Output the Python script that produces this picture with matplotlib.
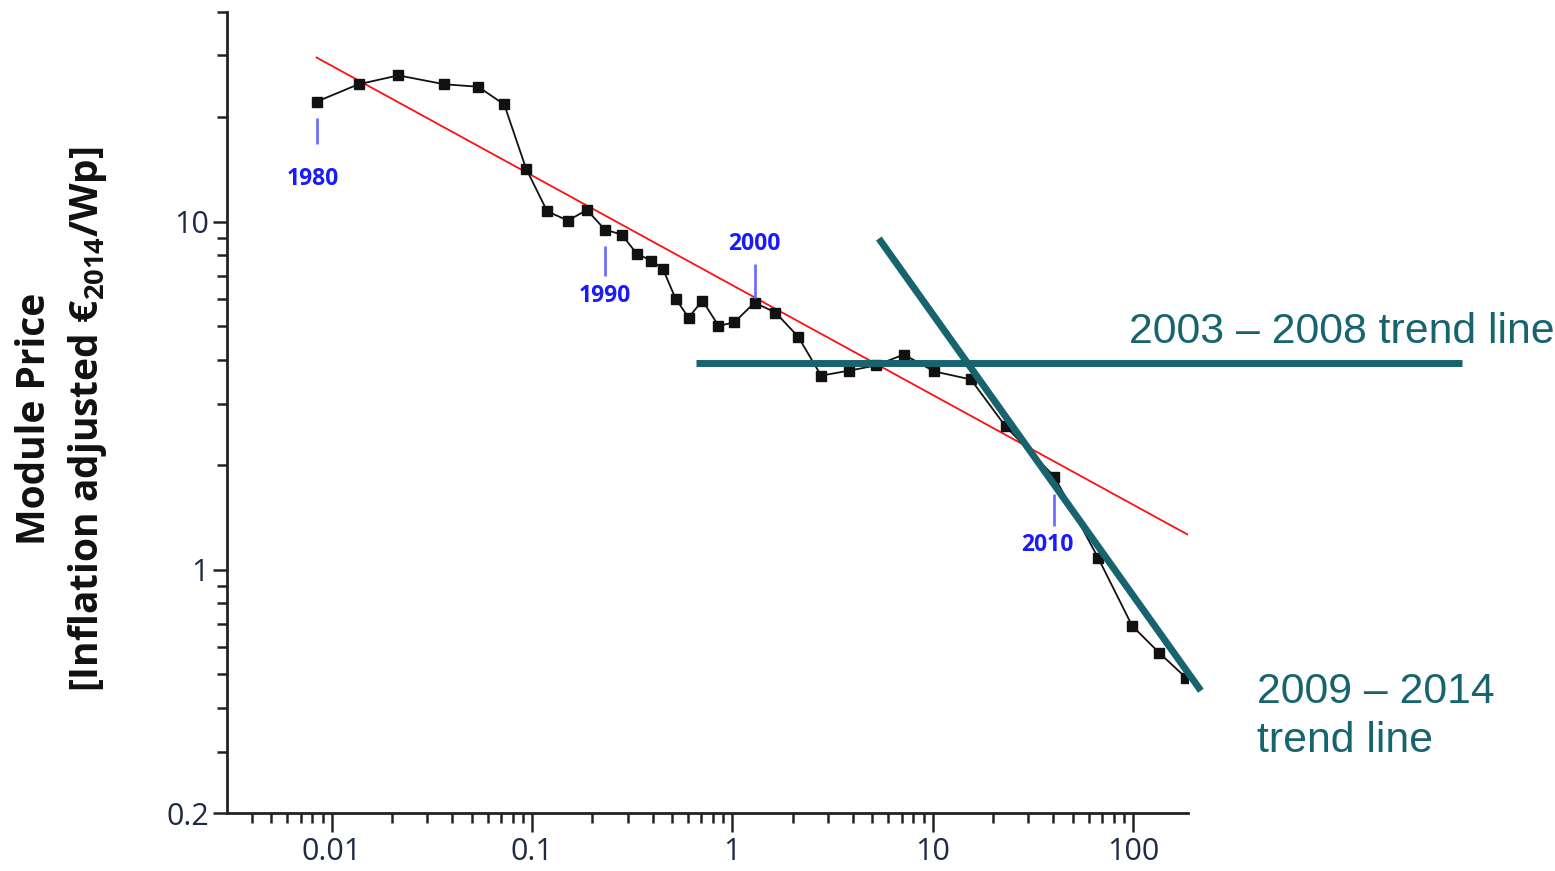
import matplotlib.pyplot as plt
from matplotlib.transforms import offset_copy

plt.rcParams['font.family'] = ['Open Sans', 'DejaVu Sans']
plt.rcParams['mathtext.fontset'] = 'custom'
plt.rcParams['mathtext.rm'] = 'Open Sans'
plt.rcParams['mathtext.bf'] = 'Open Sans:bold'

# module price vs cumulative production, one point per year 1980 - 2014
years = list(range(1980, 2015))
cum_prod = [0.0084, 0.0136, 0.0215, 0.0365, 0.0538, 0.0726, 0.0933, 0.119, 0.151, 0.188,
            0.231, 0.280, 0.333, 0.391, 0.449, 0.520, 0.604, 0.709, 0.852, 1.02,
            1.29, 1.64, 2.13, 2.77, 3.82, 5.2, 7.17, 10.2, 15.5, 23.1,
            40.5, 67.0, 98.9, 135.0, 184.0]
price = [22.1, 24.8, 26.3, 24.8, 24.4, 21.7, 14.2, 10.7, 10.07, 10.8,
         9.48, 9.18, 8.09, 7.73, 7.33, 6.01, 5.30, 5.93, 5.02, 5.13,
         5.85, 5.48, 4.67, 3.61, 3.73, 3.86, 4.15, 3.71, 3.52, 2.58,
         1.85, 1.08, 0.69, 0.577, 0.489]

# trend lines (end points)
fit_x = [0.0084, 188]
fit_y = [29.6, 1.26]
trend_0308_x = [0.66, 4390]
trend_0308_y = [3.93, 3.93]
trend_0914_x = [5.38, 218]
trend_0914_y = [8.94, 0.449]

# year markers: year, pixel offset of marker line centre, line length, pixel offset of label
year_labels = [1980, 1990, 2000, 2010]
year_layout = {1980: (-29, 26, -4, -77), 1990: (-31, 30, 0, -66),
               2000: (22, 34, 0, 59), 2010: (-33, 32, -7, -68)}

teal = '#17646e'
tick_col = '#1f2b45'

fig = plt.figure(figsize=(15.55, 8.71), dpi=100)
ax = fig.add_axes([227 / 1555, 1 - 813 / 871, (1188 - 227) / 1555, (813 - 12) / 871])
ax.set_xscale('log')
ax.set_yscale('log')

ax.plot(fit_x, fit_y, color='#ff1010', lw=1.3, zorder=2)
ax.plot(cum_prod, price, color='#111111', lw=1.3, marker='s', ms=6.8, zorder=3)

for yr in year_labels:
    i = years.index(yr)
    line_off, line_len, txt_dx, txt_off = year_layout[yr]
    tr = offset_copy(ax.transData, fig=fig, x=0, y=line_off, units='dots')
    ax.plot([cum_prod[i]], [price[i]], marker='|', ms=line_len / 1.389, mew=2.0,
            color='#6f6fff', transform=tr, zorder=4)
    trt = offset_copy(ax.transData, fig=fig, x=txt_dx, y=txt_off, units='dots')
    ax.text(cum_prod[i], price[i], str(yr), transform=trt, ha='center', va='center',
            fontsize=16.5, fontweight='bold', color='#1a1aff', zorder=4)

ax.plot(trend_0308_x, trend_0308_y, color=teal, lw=5, clip_on=False, zorder=5,
        solid_capstyle='butt')
ax.plot(trend_0914_x, trend_0914_y, color=teal, lw=5, clip_on=False, zorder=5,
        solid_capstyle='butt')

ax.set_xlim(0.003, 188)
ax.set_ylim(0.2, 40)

ax.set_xticks([0.01, 0.1, 1, 10, 100])
ax.set_xticklabels(['0.01', '0.1', '1', '10', '100'])
xminor = [m * 10.0 ** e for e in range(-3, 3) for m in range(2, 10)]
ax.set_xticks([v for v in xminor if 0.0035 < v < 188], minor=True)
ax.set_yticks([0.2, 1, 10])
ax.set_yticklabels(['0.2', '1', '10'])
yminor = [m * 10.0 ** e for e in range(-1, 2) for m in range(2, 10)]
ax.set_yticks([v for v in yminor if 0.25 < v <= 40 and v not in (1, 10)], minor=True)
ax.yaxis.set_minor_formatter(plt.NullFormatter())
ax.xaxis.set_minor_formatter(plt.NullFormatter())

ax.tick_params(axis='x', which='major', length=13.5, width=1.8, labelsize=22,
               labelcolor=tick_col, color='#222222', pad=4)
ax.tick_params(axis='x', which='minor', length=7.5, width=1.8, color='#222222')
ax.tick_params(axis='y', which='major', length=10, width=1.8, labelsize=22,
               labelcolor=tick_col, color='#222222', pad=3)
ax.tick_params(axis='y', which='minor', length=7, width=1.8, color='#222222')

for s in ['top', 'right']:
    ax.spines[s].set_visible(False)
for s in ['left', 'bottom']:
    ax.spines[s].set_linewidth(2.0)
    ax.spines[s].set_color('#222222')

fig.text(35 / 1555, 1 - 419 / 871, 'Module Price', rotation=90, ha='center', va='center',
         fontsize=28, fontweight='bold', color='#111111')
fig.text(88 / 1555, 1 - 419 / 871, r'[Inflation adjusted €$_{\mathbf{2014}}$/Wp]',
         rotation=90, ha='center', va='center', fontsize=28, fontweight='bold',
         color='#111111')

fig.text(1129 / 1555, 1 - 343 / 871, '2003 – 2008 trend line', fontsize=30.8,
         family=['Liberation Sans'], color=teal, va='baseline')
fig.text(1257 / 1555, 1 - 703 / 871, '2009 – 2014', fontsize=30.8,
         family=['Liberation Sans'], color=teal, va='baseline')
fig.text(1257 / 1555, 1 - 752 / 871, 'trend line', fontsize=30.8,
         family=['Liberation Sans'], color=teal, va='baseline')

plt.savefig('out.png', dpi=100)
